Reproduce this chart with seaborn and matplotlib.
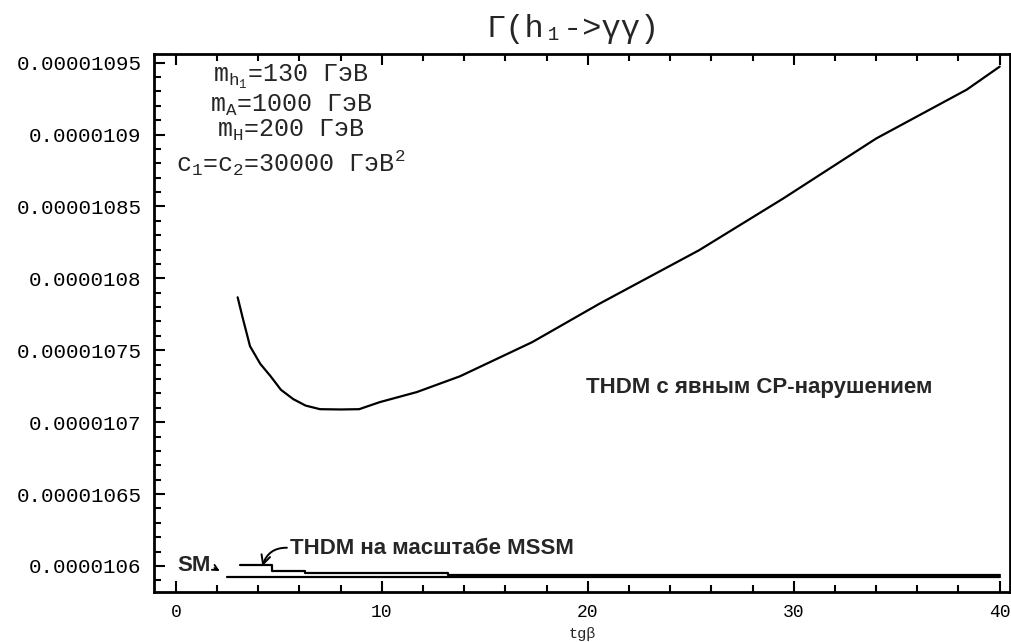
import matplotlib
matplotlib.use("Agg")
import matplotlib.pyplot as plt
from matplotlib.ticker import MultipleLocator, FuncFormatter
import pandas as pd
import seaborn as sns

# values in units of 1e-5
SCALE = 1e-5
tg_cp = [3.0, 3.25, 3.6, 4.1, 4.6, 5.1, 5.7, 6.3, 7.0, 8.0, 8.9, 9.9, 11.7, 13.8, 17.3, 20.6, 25.4, 29.5, 34.0, 38.4, 40.0]
gam_cp = [1.07868, 1.07722, 1.07528, 1.07405, 1.07319, 1.07225, 1.0716, 1.07115, 1.0709, 1.07088, 1.0709,
          1.07139, 1.07209, 1.07319, 1.07556, 1.07826, 1.08195, 1.08556, 1.08972, 1.09312, 1.09472]

tg_mssm = [3.1, 4.65, 6.25, 13.2, 40.0]
gam_mssm = [1.06007, 1.05965, 1.05951, 1.05937, 1.05937]

tg_sm = [2.5, 40.0]
gam_sm = [1.0592, 1.0592]

y_ticks = [1.06, 1.065, 1.07, 1.075, 1.08, 1.085, 1.09, 1.095]

sns.set_style("ticks")
plt.rcParams['font.family'] = ['Liberation Mono', 'DejaVu Sans Mono']
plt.rcParams['mathtext.fontset'] = 'custom'
plt.rcParams['mathtext.rm'] = 'Liberation Mono'
plt.rcParams['mathtext.it'] = 'Liberation Mono'
plt.rcParams['mathtext.bf'] = 'Liberation Mono:bold'

cp = pd.DataFrame({'tg': tg_cp, 'gam': [v * SCALE for v in gam_cp]})
mssm = pd.DataFrame({'tg': tg_mssm, 'gam': [v * SCALE for v in gam_mssm]})
sm = pd.DataFrame({'tg': tg_sm, 'gam': [v * SCALE for v in gam_sm]})

fig = plt.figure(figsize=(10.12, 6.42), dpi=100)
ax = fig.add_axes([0.152, 0.078, 0.846, 0.838])

sns.lineplot(data=cp, x='tg', y='gam', ax=ax, color='black', linewidth=1.6)
sns.lineplot(data=sm, x='tg', y='gam', ax=ax, color='black', linewidth=1.6)
sns.lineplot(data=mssm, x='tg', y='gam', ax=ax, color='black', linewidth=1.6,
             drawstyle='steps-post')

ax.set_xlim(-1.07, 40.5)
ax.set_ylim(1.058192e-5, 1.095604e-5)

ax.xaxis.set_major_locator(MultipleLocator(10))
ax.xaxis.set_minor_locator(MultipleLocator(2))
ax.set_yticks([v * SCALE for v in y_ticks])
ax.yaxis.set_minor_locator(MultipleLocator(1e-8))
ax.yaxis.set_major_formatter(FuncFormatter(lambda v, p: f"{v:.8f}".rstrip('0')))

ax.tick_params(axis='both', which='both', direction='in', width=1.5, colors='black')
ax.tick_params(axis='both', which='major', length=8, pad=9)
ax.tick_params(axis='both', which='minor', length=5)
ax.tick_params(axis='x', which='both', top=True, labelsize=13)
ax.tick_params(axis='y', labelsize=15)
for s in ax.spines.values():
    s.set_linewidth(2)
    s.set_color('black')

ax.set_xlabel("tgβ", fontsize=11, labelpad=4)
ax.set_ylabel("")
ax.set_title("Γ(h₁->γγ)", fontsize=23, pad=12, x=0.49)

# parameter block
params = ["m$_{h_1}$=130 ГэВ", "m$_A$=1000 ГэВ", "m$_H$=200 ГэВ", "c$_1$=c$_2$=30000 ГэВ$^2$"]
for txt, yf in zip(params, [0.957, 0.905, 0.857, 0.797]):
    ax.text(0.16, yf, txt, transform=ax.transAxes, fontsize=18, ha='center', va='center')

lab = dict(family=['Liberation Sans', 'DejaVu Sans'], fontsize=16, fontweight='bold')
ax.text(19.9, 1.07243e-5, "THDM с явным CP-нарушением", va='center', **lab)
ax.text(0.05, 1.06003e-5, "SM", va='center', **lab)
ax.annotate("", xy=(2.25, 1.05955e-5), xytext=(1.75, 1.05995e-5),
            arrowprops=dict(arrowstyle='->', color='black', lw=1.3))
ax.annotate("THDM на масштабе MSSM", xy=(4.2, 1.05998e-5), xytext=(5.55, 1.06118e-5),
            va='center', ha='left', **lab,
            arrowprops=dict(arrowstyle='->', color='black', lw=1.4, relpos=(0, 0.55),
                            connectionstyle='arc3,rad=0.4', shrinkA=0, shrinkB=0))

fig.savefig("out.png", dpi=100)
